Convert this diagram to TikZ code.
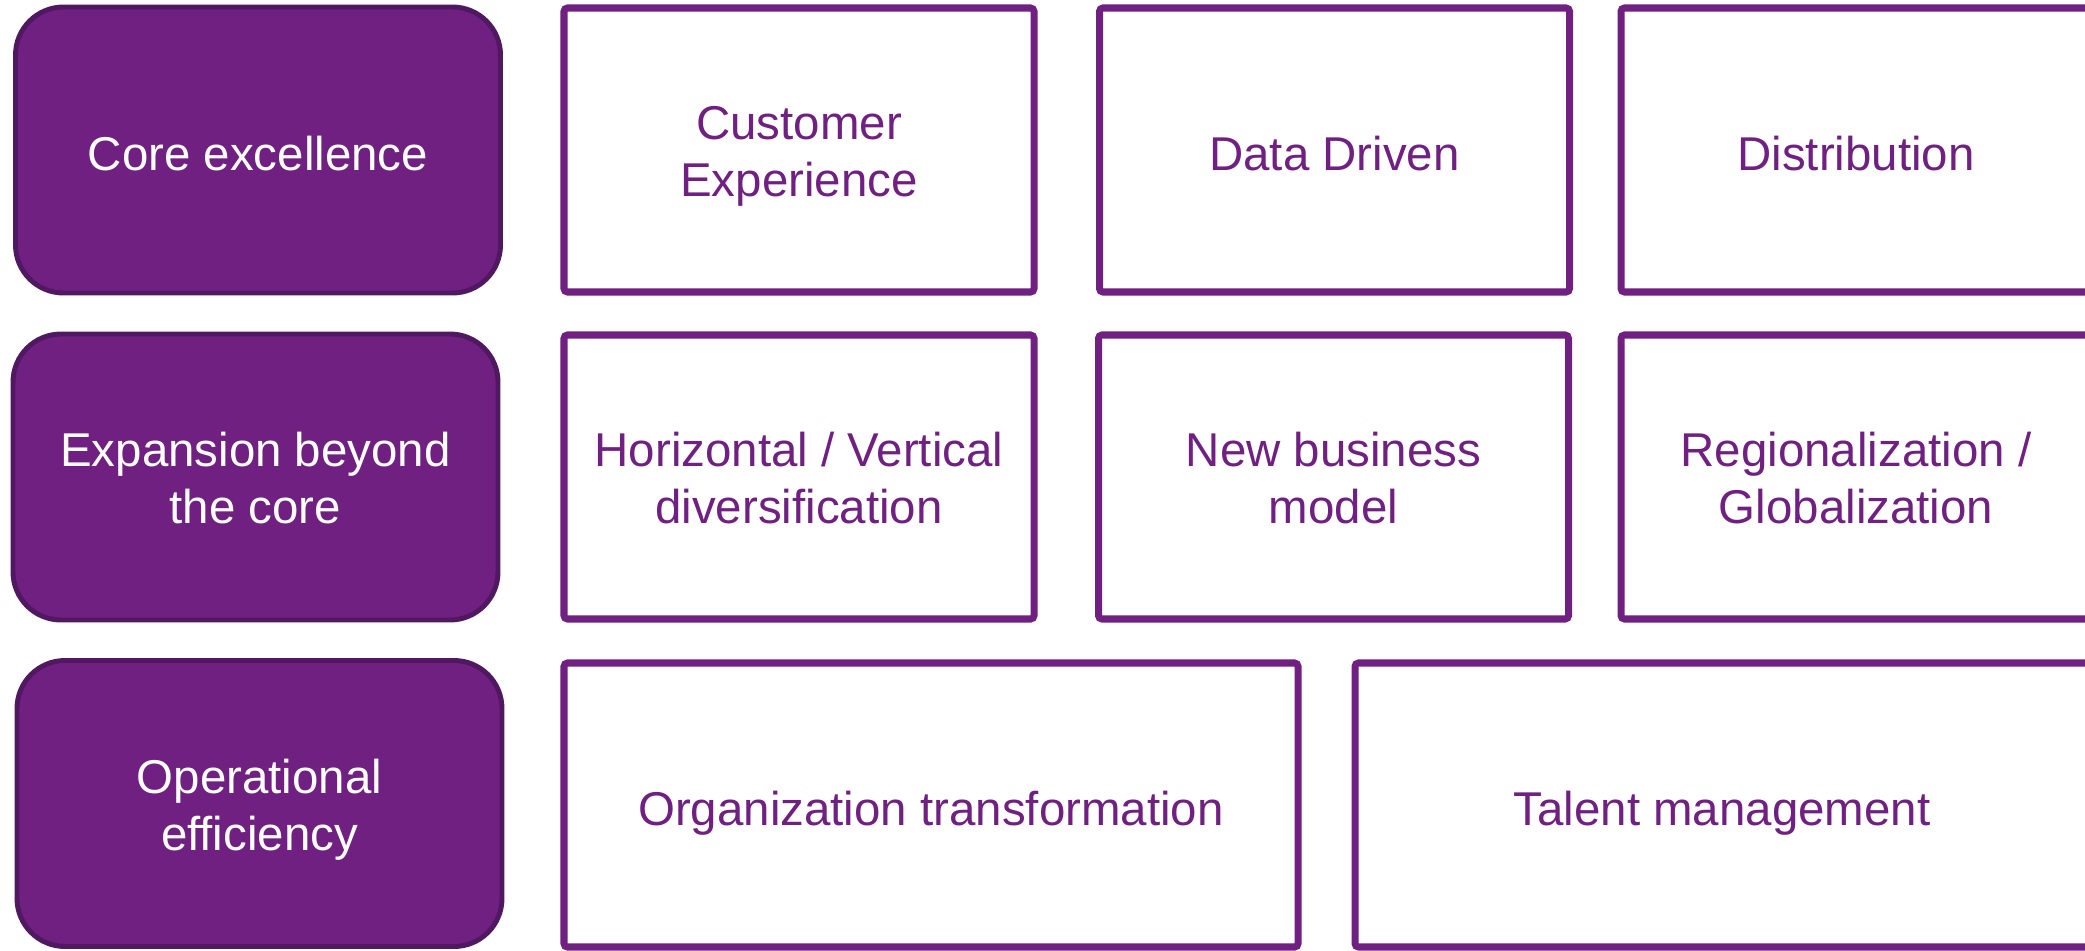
\documentclass[tikz,border=0pt]{standalone}
\usepackage{fontspec}
\setmainfont{Liberation Sans}
\usepackage{tikz}
\usepackage{xcolor}
\definecolor{plum}{RGB}{111,32,128}
\definecolor{darkplum}{RGB}{80,24,96}
% fixed line metrics, as the slide sets them
\newcommand{\capline}{\rule{0pt}{13.4pt}}
\tikzset{boxtext/.style={align=center, font=\fontsize{13.5}{16.2}\selectfont,
   execute at begin node={\rule[-2.9pt]{0pt}{17.5pt}},
   execute at end node={\rule[-2.9pt]{0pt}{2.9pt}}},
 pillar/.style={boxtext, draw=darkplum, line width=1.4pt, fill=plum, text=white,
   rounded corners=0.48cm, minimum width=4.85cm, minimum height=2.86cm},
 cell/.style={boxtext, draw=plum, line width=2pt, text=plum, rounded corners=1pt,
   minimum width=4.70cm, minimum height=2.84cm},
 widecell/.style={cell, minimum width=7.34cm},
 }

\begin{document}
\begin{tikzpicture}
        \useasboundingbox (0,0) rectangle (20.85,-9.50);
        \node[pillar] (core) at (2.58, -1.50) {Core excellence};
        \node[pillar] (expand) at (2.555, -4.77) {\capline Expansion beyond\\the core};
        \node[pillar] (ops) at (2.595, -8.035) {\capline Operational\\efficiency};
        \node[cell] (cx) at (7.99, -1.50) {\capline Customer\\Experience};
        \node[cell] (data) at (13.345, -1.50) {Data Driven};
        \node[cell] (distr) at (18.56, -1.50) {Distribution};
        \node[cell] (diversif) at (7.99, -4.77) {\capline Horizontal / Vertical\\diversification};
        \node[cell] (bizmodel) at (13.335, -4.77) {\capline New business\\model};
        \node[cell] (region) at (18.56, -4.77) {\capline Regionalization /\\Globalization};
        \node[widecell] (orga) at (9.31, -8.05) {Organization transformation};
        \node[widecell] (talent) at (17.22, -8.05) {Talent management};
    \end{tikzpicture}
\end{document}
